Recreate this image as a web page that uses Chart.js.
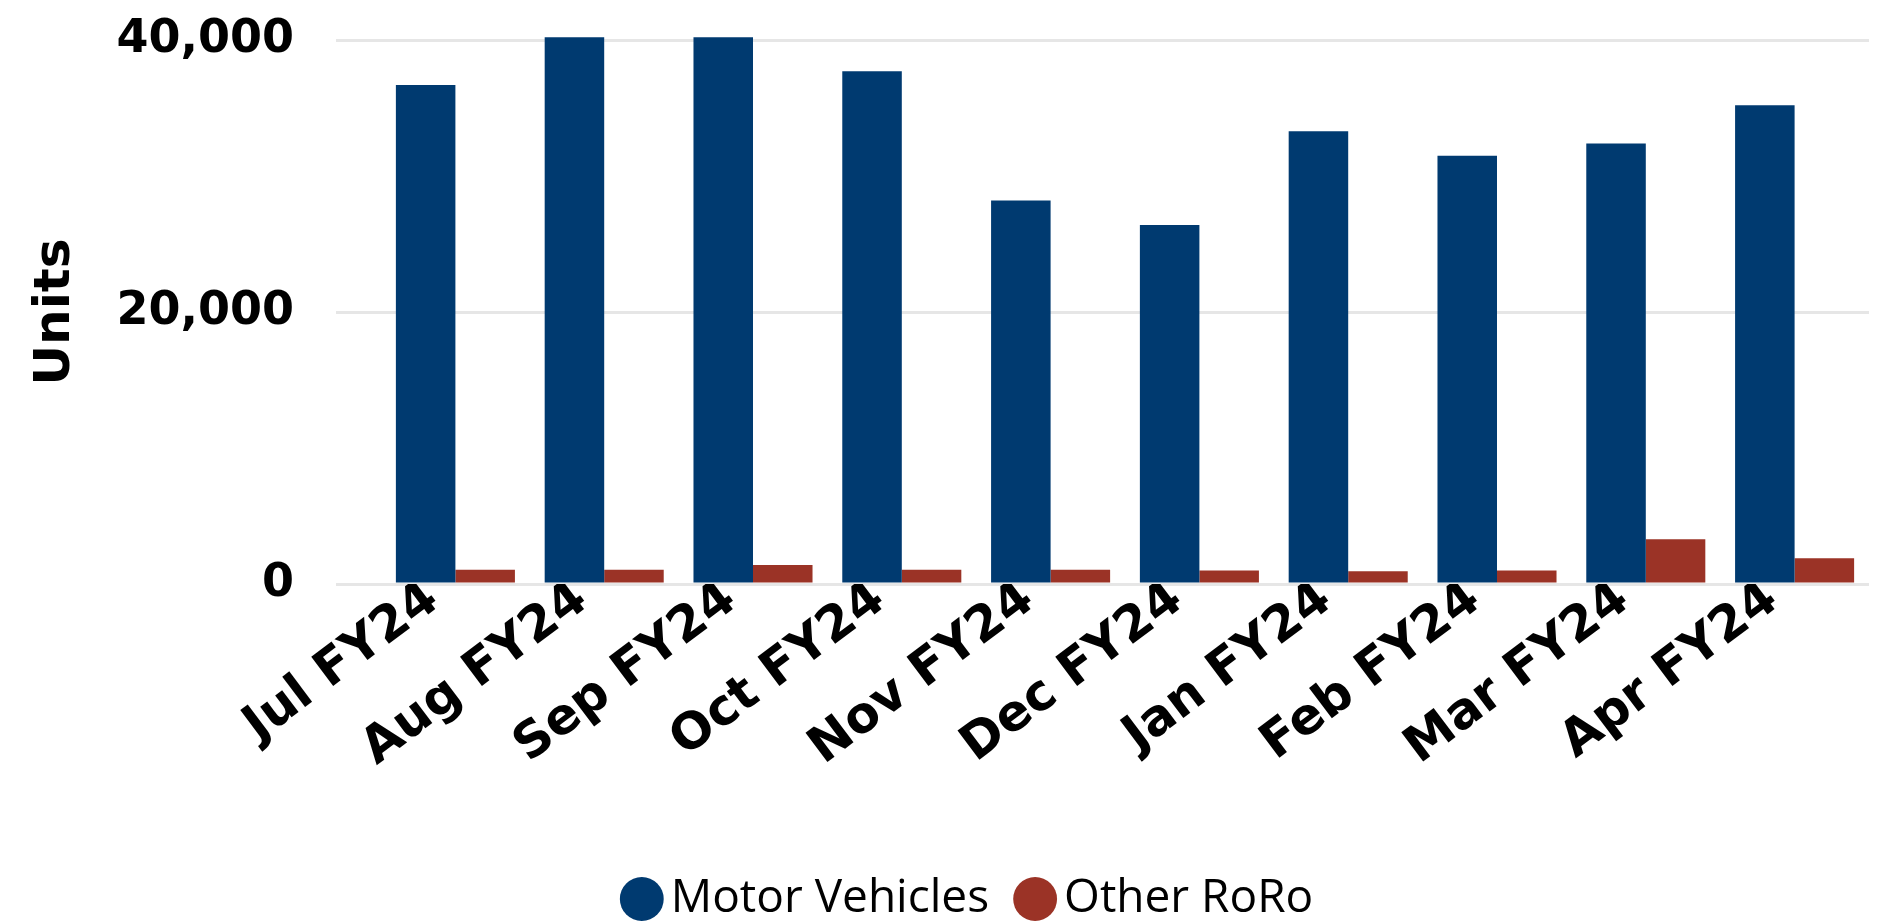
<!DOCTYPE html>
<html>
<head>
<meta charset="utf-8">
<script src="https://cdn.jsdelivr.net/npm/chart.js@4.4.0/dist/chart.umd.min.js"></script>
<style>
  html, body { margin: 0; padding: 0; background: #fff; }
  #wrap { width: 1894px; height: 922px; }
</style>
</head>
<body>
<div id="wrap"><canvas id="chart"></canvas></div>
<script>
const months = ['Jul FY24', 'Aug FY24', 'Sep FY24', 'Oct FY24', 'Nov FY24',
                'Dec FY24', 'Jan FY24', 'Feb FY24', 'Mar FY24', 'Apr FY24'];
const motorVehicles = [36700, 40200, 40200, 37700, 28200, 26400, 33300, 31500, 32400, 35200];
const otherRoro = [1050, 1050, 1400, 1050, 1050, 1000, 950, 1000, 3300, 1900];
const yTicks = [0, 20000, 40000];

const yFont = { family: '"DejaVu Sans"', size: 46, weight: 'bold', lineHeight: 1.0 };
const xFont = { family: '"DejaVu Sans"', size: 50, weight: 'bold', lineHeight: 1.0 };

// nudge the legend a bit right and down, like the original
const legendShift = {
    id: 'legendShift',
    afterLayout(chart) {
        const lg = chart.legend;
        lg.left += 40; lg.right += 40;
        lg.top += 58; lg.bottom += 58;
    }
};

new Chart(document.getElementById('chart'), {
    type: 'bar',
    data: {
        labels: months,
        datasets: [{
            label: 'Motor Vehicles',
            data: motorVehicles,
            backgroundColor: '#003A70',
            categoryPercentage: 0.8,
            barPercentage: 1.0,
            clip: false
        }, {
            label: 'Other RoRo',
            data: otherRoro,
            backgroundColor: '#9B3326',
            categoryPercentage: 0.8,
            barPercentage: 1.0,
            clip: false
        }]
    },
    plugins: [legendShift],
    options: {
        responsive: true,
        maintainAspectRatio: false,
        animation: false,
        layout: { padding: { top: 0, right: 25, bottom: 48, left: 0 } },
        plugins: {
            tooltip: { enabled: false },
            legend: {
                position: 'bottom',
                labels: {
                    usePointStyle: true,
                    pointStyle: 'circle',
                    boxWidth: 12,
                    boxHeight: 31,
                    padding: 40,
                    color: '#000',
                    font: { family: '"Open Sans"', size: 46 }
                }
            }
        },
        scales: {
            x: {
                afterFit: (axis) => { axis.height += 21; },
                grid: { display: false },
                border: { display: false },
                ticks: {
                    color: '#000',
                    font: xFont,
                    minRotation: 37,
                    maxRotation: 37,
                    padding: -18,
                    labelOffset: -22
                }
            },
            y: {
                min: 0,
                max: 40000,
                afterBuildTicks: (axis) => { axis.ticks = yTicks.map(v => ({ value: v })); },
                afterFit: (axis) => { axis.width = 381; axis.paddingTop = 40; },
                grid: { color: '#e6e6e6', lineWidth: 3, tickLength: 45 },
                border: { display: false },
                ticks: {
                    color: '#000',
                    font: yFont,
                    padding: 42,
                    callback: (v) => v.toLocaleString('en-US')
                },
                title: {
                    display: true,
                    text: 'Units',
                    color: '#000',
                    font: { family: '"DejaVu Sans"', size: 50, weight: 'bold' },
                    padding: { top: 26, bottom: 20 }
                }
            }
        }
    }
});
</script>
</body>
</html>
